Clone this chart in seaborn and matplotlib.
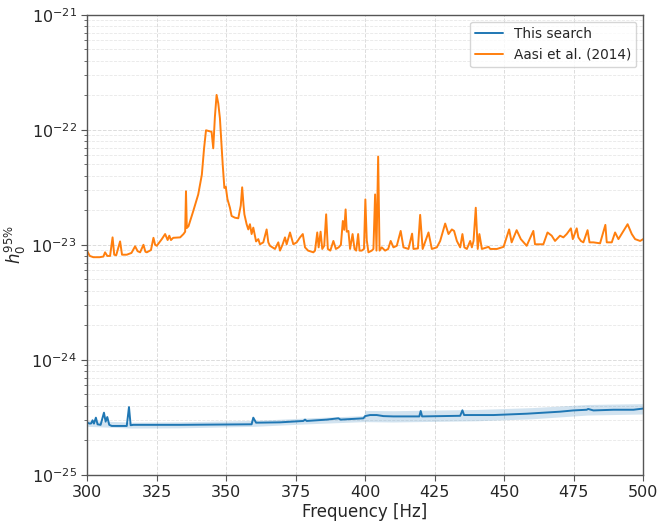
import numpy as np
import pandas as pd
import matplotlib
matplotlib.use("Agg")
import matplotlib.pyplot as plt
import matplotlib.ticker as mticker
import seaborn as sns

# ---- data ----
aasi_freq = [300.0, 301.0, 302.3, 304.5, 305.9, 306.5, 307.3, 308.3, 309.2, 309.8,
             310.5, 311.9, 312.6, 314.3, 316.0, 317.3, 318.2, 319.1, 320.3, 321.0,
             321.5, 323.0, 323.9, 324.5, 325.1, 326.9, 328.1, 329.0, 329.6, 330.2,
             331.0, 333.5, 334.7, 335.3, 335.6, 335.9, 336.5, 338.2, 340.0, 341.3,
             342.1, 342.8, 344.8, 345.4, 346.0, 346.6, 347.2, 347.8, 348.8, 349.4,
             349.9, 350.5, 351.4, 352.0, 353.2, 354.4, 355.3, 355.8, 356.3, 356.6,
             357.4, 358.0, 358.6, 359.2, 359.8, 360.8, 361.6, 362.2, 363.4, 364.6,
             365.2, 365.8, 367.6, 368.8, 369.4, 370.3, 371.2, 371.8, 373.0, 374.2,
             375.4, 376.6, 377.6, 378.4, 379.5, 381.4, 382.0, 382.8, 383.3, 384.0,
             384.6, 385.3, 386.0, 386.6, 387.5, 388.6, 389.5, 390.5, 391.3, 392.0,
             392.5, 393.0, 393.4, 394.0, 394.6, 395.5, 396.2, 396.8, 397.5, 398.0,
             398.8, 399.6, 400.1, 400.6, 401.2, 402.4, 403.0, 403.6, 404.1, 404.7,
             405.2, 406.0, 407.2, 408.3, 409.2, 410.2, 411.4, 412.8, 413.8, 415.6,
             416.9, 417.4, 419.0, 419.8, 420.7, 422.8, 424.0, 425.8, 427.0, 428.8,
             430.0, 431.2, 432.0, 433.0, 434.2, 435.0, 435.7, 436.6, 437.8, 438.4,
             439.0, 439.8, 440.5, 441.1, 442.0, 444.4, 445.0, 447.4, 449.8, 451.8,
             452.7, 454.5, 456.0, 458.1, 460.5, 461.1, 464.1, 465.6, 467.1, 468.3,
             470.1, 471.3, 472.5, 474.0, 474.7, 476.1, 476.7, 477.6, 478.5, 480.0,
             480.7, 482.1, 484.5, 486.4, 486.9, 488.7, 489.9, 491.1, 492.9, 494.4,
             495.9, 497.1, 498.9, 500.0]
aasi_h0 = [8.9e-24, 8.0e-24, 7.8e-24, 7.8e-24, 7.9e-24, 8.6e-24, 8.0e-24, 8.0e-24, 1.16e-23, 8.2e-24,
           8.1e-24, 1.07e-23, 8.2e-24, 8.2e-24, 8.5e-24, 9.7e-24, 8.8e-24, 8.6e-24, 1.0e-23, 8.7e-24,
           8.6e-24, 9.0e-24, 1.15e-23, 1.0e-23, 9.8e-24, 1.12e-23, 1.24e-23, 1.1e-23, 1.2e-23, 1.1e-23,
           1.15e-23, 1.16e-23, 1.24e-23, 1.3e-23, 2.92e-23, 1.4e-23, 1.45e-23, 1.96e-23, 2.74e-23, 4.07e-23,
           6.9e-23, 9.9e-23, 9.6e-23, 6.9e-23, 1.3e-22, 2.01e-22, 1.7e-22, 1.26e-22, 5.0e-23, 3.12e-23,
           3.2e-23, 2.5e-23, 2.1e-23, 1.78e-23, 1.72e-23, 1.70e-23, 2.2e-23, 3.16e-23, 2.2e-23, 1.84e-23,
           1.51e-23, 1.36e-23, 1.51e-23, 1.24e-23, 1.41e-23, 1.07e-23, 1.12e-23, 1.01e-23, 1.05e-23, 1.36e-23,
           1.05e-23, 9.8e-24, 9.2e-24, 1.05e-23, 8.9e-24, 1.0e-23, 1.16e-23, 1.01e-23, 1.28e-23, 1.01e-23,
           1.05e-23, 1.16e-23, 1.24e-23, 9.5e-24, 8.9e-24, 8.6e-24, 8.9e-24, 1.28e-23, 9.5e-24, 1.30e-23,
           9.2e-24, 9.8e-24, 1.84e-23, 9.2e-24, 8.9e-24, 1.08e-23, 9.2e-24, 9.5e-24, 1.0e-23, 1.61e-23,
           1.35e-23, 2.03e-23, 1.3e-23, 1.32e-23, 9.2e-24, 1.24e-23, 9.2e-24, 8.9e-24, 1.24e-23, 8.9e-24,
           8.9e-24, 9.2e-24, 2.48e-23, 1.1e-23, 8.6e-24, 8.9e-24, 9.2e-24, 2.74e-23, 8.9e-24, 5.85e-23,
           8.9e-24, 9.5e-24, 8.9e-24, 9.2e-24, 1.08e-23, 9.5e-24, 9.8e-24, 1.32e-23, 9.5e-24, 9.2e-24,
           1.25e-23, 9.2e-24, 9.3e-24, 1.82e-23, 9.2e-24, 1.28e-23, 9.2e-24, 9.5e-24, 1.08e-23, 1.53e-23,
           1.24e-23, 1.36e-23, 1.32e-23, 1.08e-23, 9.5e-24, 1.24e-23, 9.5e-24, 9.2e-24, 1.08e-23, 9.5e-24,
           1.08e-23, 2.10e-23, 9.2e-24, 1.24e-23, 9.2e-24, 9.6e-24, 9.2e-24, 9.2e-24, 9.6e-24, 1.36e-23,
           1.05e-23, 1.34e-23, 1.12e-23, 9.8e-24, 1.32e-23, 1.01e-23, 1.01e-23, 1.28e-23, 1.2e-23, 1.08e-23,
           1.2e-23, 1.16e-23, 1.24e-23, 1.39e-23, 1.12e-23, 1.39e-23, 1.16e-23, 1.08e-23, 1.05e-23, 1.34e-23,
           1.05e-23, 1.05e-23, 1.03e-23, 1.49e-23, 1.05e-23, 1.05e-23, 1.28e-23, 1.12e-23, 1.32e-23, 1.51e-23,
           1.24e-23, 1.12e-23, 1.08e-23, 1.12e-23]

search_freq = [300.0, 301.0, 301.5, 302.0, 302.5, 303.2, 303.8, 304.9, 306.1, 306.7,
               307.3, 308.0, 308.9, 314.3, 315.1, 315.7, 316.7, 333.4, 359.2, 359.8,
               360.8, 369.4, 377.8, 378.4, 379.0, 386.2, 390.4, 391.2, 399.4, 400.0,
               401.8, 404.2, 406.6, 410.2, 419.5, 420.0, 420.5, 434.2, 435.0, 435.6,
               446.2, 458.2, 470.1, 474.9, 479.7, 480.2, 482.1, 489.3, 496.5, 500.0]
search_h0 = [2.84e-25, 2.79e-25, 2.80e-25, 2.98e-25, 2.79e-25, 3.14e-25, 2.75e-25, 2.72e-25, 3.47e-25, 2.90e-25,
             3.18e-25, 2.72e-25, 2.66e-25, 2.66e-25, 3.88e-25, 2.70e-25, 2.72e-25, 2.72e-25, 2.75e-25, 3.14e-25,
             2.84e-25, 2.86e-25, 2.94e-25, 3.02e-25, 2.94e-25, 3.02e-25, 3.10e-25, 3.02e-25, 3.10e-25, 3.24e-25,
             3.31e-25, 3.31e-25, 3.24e-25, 3.22e-25, 3.22e-25, 3.59e-25, 3.22e-25, 3.26e-25, 3.64e-25, 3.31e-25,
             3.31e-25, 3.40e-25, 3.54e-25, 3.63e-25, 3.68e-25, 3.74e-25, 3.63e-25, 3.68e-25, 3.68e-25, 3.77e-25]

band_freq = [300.0, 316.0, 333.0, 360.0, 380.0, 399.5, 400.0, 410.0, 440.0, 460.0, 480.0, 500.0]
band_low = [2.64e-25, 2.55e-25, 2.56e-25, 2.64e-25, 2.78e-25, 2.90e-25, 2.90e-25, 2.88e-25, 2.95e-25, 3.07e-25, 3.31e-25, 3.38e-25]
band_high = [2.97e-25, 2.87e-25, 2.89e-25, 2.97e-25, 3.13e-25, 3.27e-25, 3.63e-25, 3.61e-25, 3.70e-25, 3.84e-25, 4.09e-25, 4.16e-25]

labels = ["This search", "Aasi et al. (2014)"]
colors = ["#1f77b4", "#ff7f0e"]
x_ticks = [300, 325, 350, 375, 400, 425, 450, 475, 500]
y_ticks = [1e-25, 1e-24, 1e-23, 1e-22, 1e-21]

# ---- build table ----
df = pd.concat([
    pd.DataFrame({"Frequency": search_freq, "h0": search_h0, "source": labels[0]}),
    pd.DataFrame({"Frequency": aasi_freq, "h0": aasi_h0, "source": labels[1]}),
], ignore_index=True)

sns.set_style("ticks")
plt.rcParams["font.family"] = ["DejaVu Sans"]

fig = plt.figure(figsize=(6.59, 5.27), dpi=100)
ax = fig.add_axes([0.132, 0.099, 0.844, 0.873])

ax.fill_between(band_freq, band_low, band_high, color=colors[0], alpha=0.2, linewidth=0)
sns.lineplot(data=df, x="Frequency", y="h0", hue="source", hue_order=labels,
             palette=colors, linewidth=1.4, sort=False, estimator=None, ax=ax)

ax.set_yscale("log")
ax.set_xlim(300, 500)
ax.set_ylim(1e-25, 1e-21)
ax.set_xticks(x_ticks)
ax.yaxis.set_major_locator(mticker.FixedLocator(y_ticks))
ax.yaxis.set_major_formatter(mticker.LogFormatterSciNotation())
ax.yaxis.set_minor_locator(mticker.LogLocator(base=10, subs=np.arange(2, 10), numticks=20))
ax.yaxis.set_minor_formatter(mticker.NullFormatter())

ax.grid(True, which="major", axis="both", linestyle="--", color="#dcdcdc", linewidth=0.7)
ax.grid(True, which="minor", axis="y", linestyle="--", color="#e8e8e8", linewidth=0.6)
ax.set_axisbelow(True)

for s in ax.spines.values():
    s.set_visible(True)
    s.set_color("#555555")
    s.set_linewidth(1.0)

ax.tick_params(axis="both", which="major", labelsize=11.5, length=4, color="#555555")
ax.tick_params(axis="y", which="minor", length=2.5, color="#555555")
ax.set_xlabel("Frequency [Hz]", fontsize=12, labelpad=2)
ax.set_ylabel(r"$h_0^{95\%}$", fontsize=12, labelpad=2)

leg = ax.legend(loc="upper right", fontsize=9.8, frameon=True, title=None)
leg.get_frame().set_edgecolor("#cccccc")

fig.savefig("out.png", dpi=100)
